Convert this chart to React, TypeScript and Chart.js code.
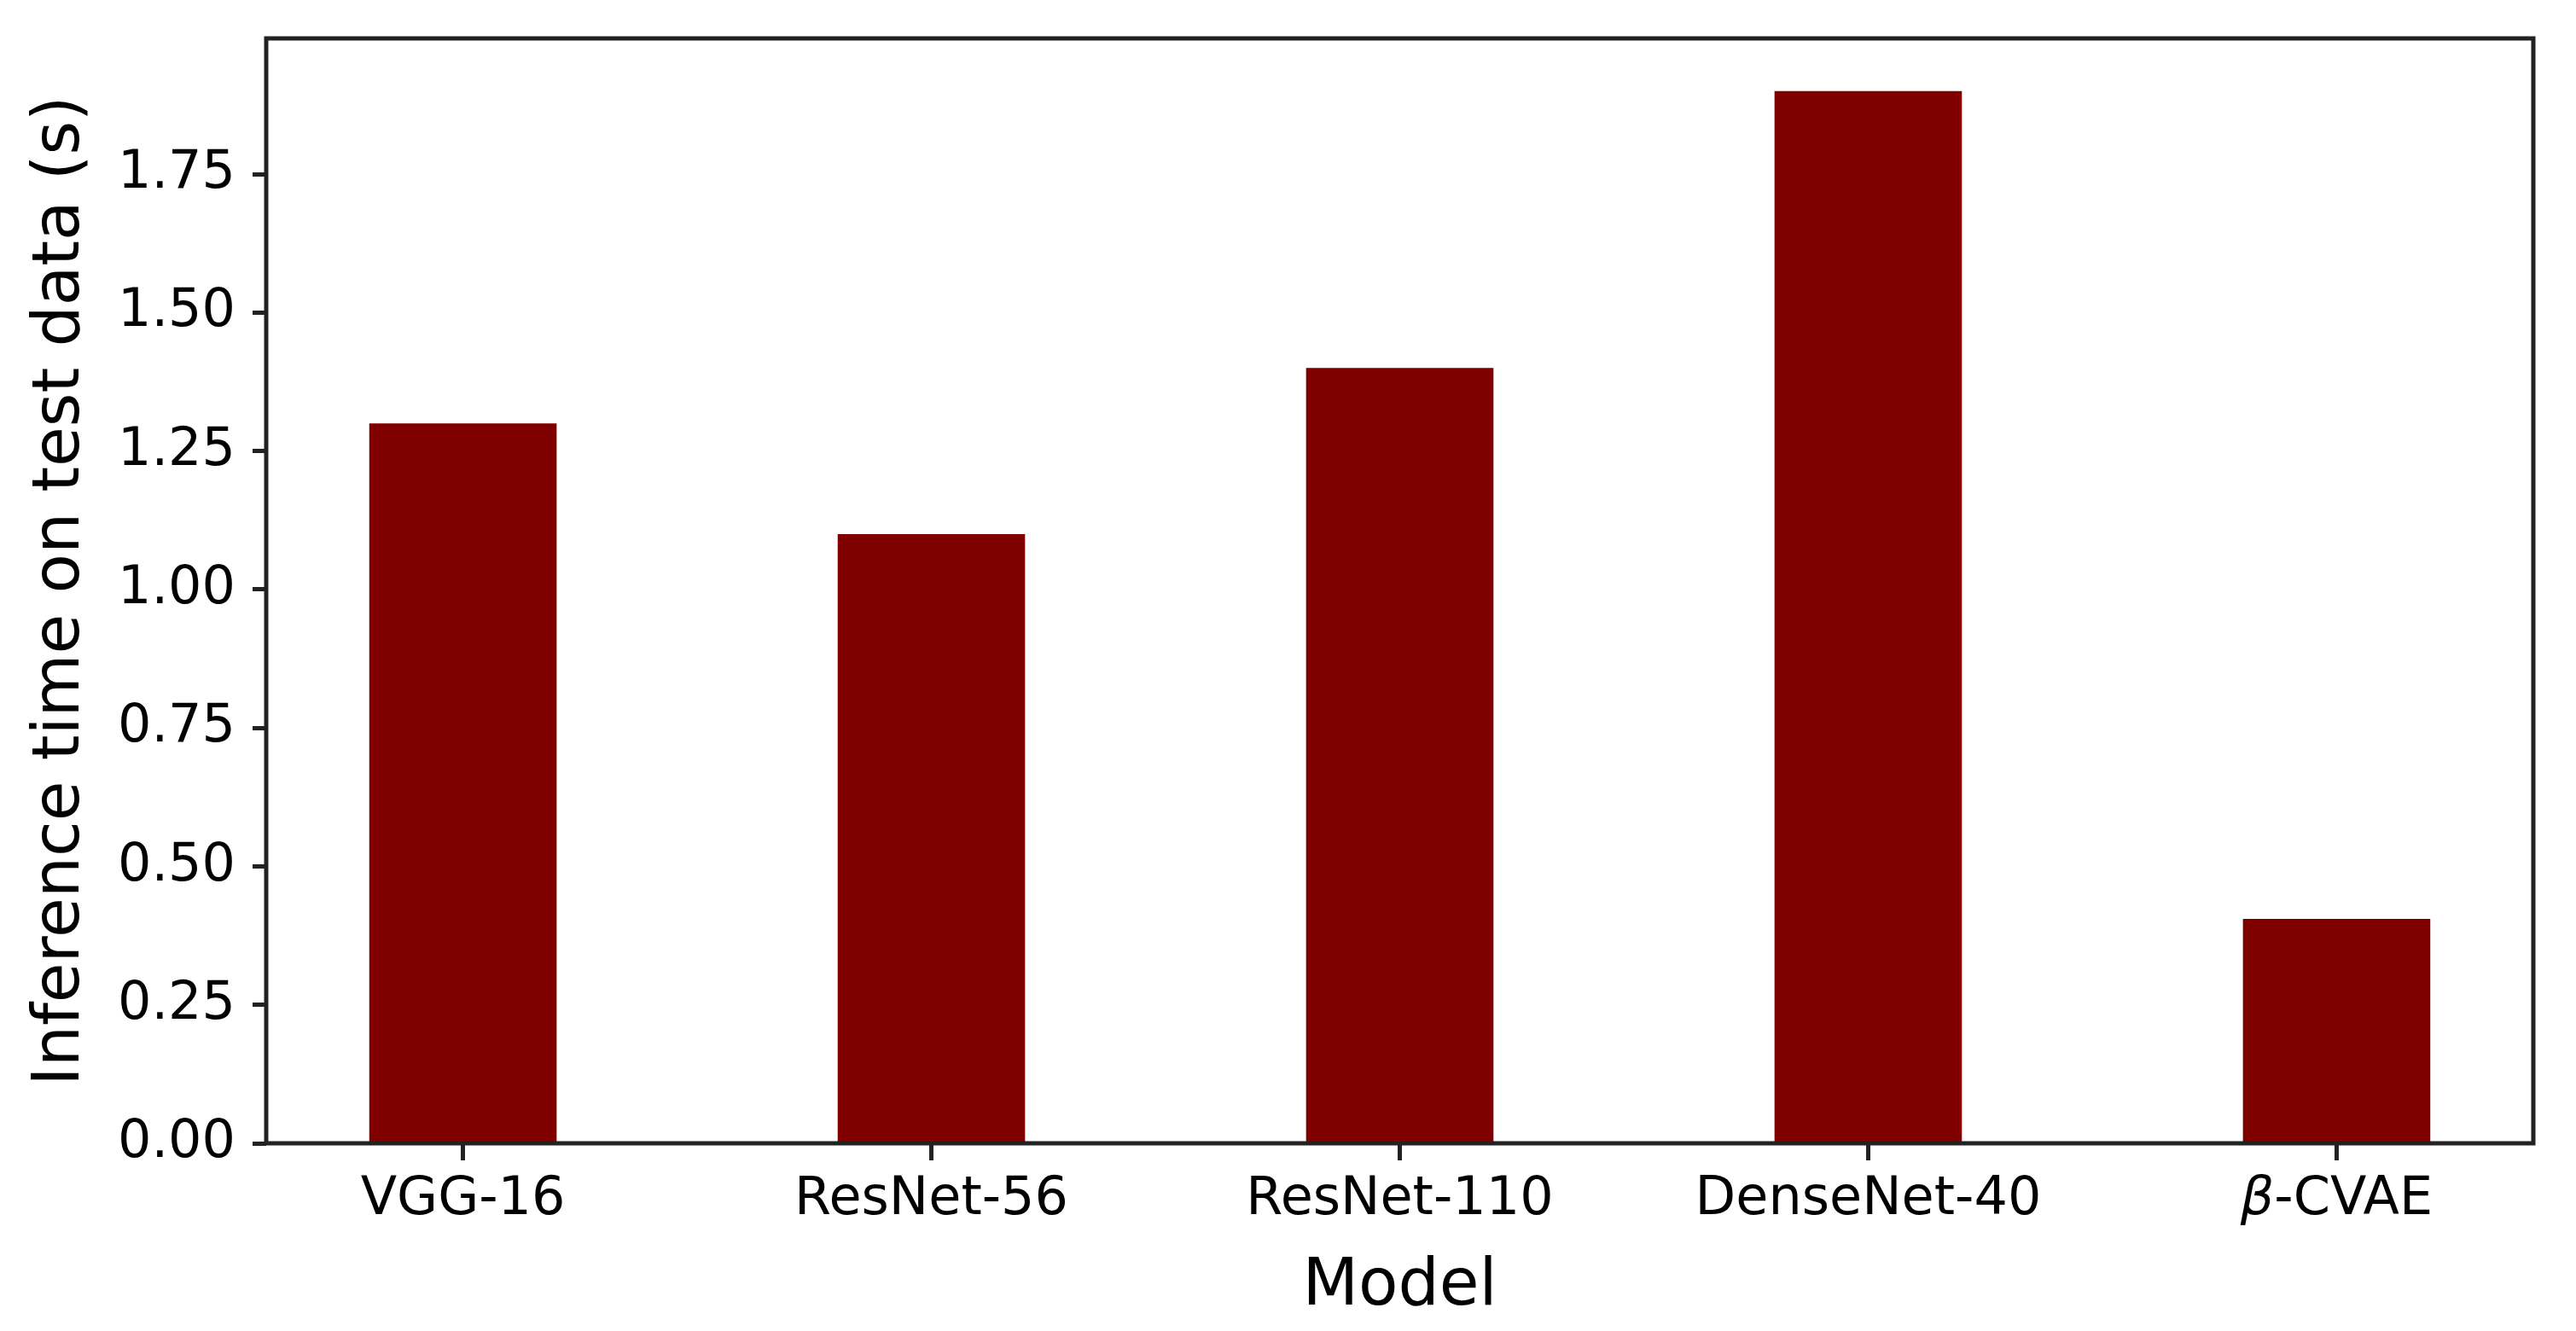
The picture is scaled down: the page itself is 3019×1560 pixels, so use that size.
import React, { useEffect, useRef } from "react";
import { Chart, registerables } from "chart.js";

Chart.register(...registerables);

const categories = ["VGG-16", "ResNet-56", "ResNet-110", "DenseNet-40", "β-CVAE"];
const inferenceTimes = [1.3, 1.1, 1.4, 1.9, 0.405];
const yTickValues = [0, 0.25, 0.5, 0.75, 1.0, 1.25, 1.5, 1.75];
const xLimits = [-0.42, 4.42];
const yLimits = [0, 1.995];

const AXIS = "#222222";
const BAR = "#800000";
const FONT = "'DejaVu Sans', sans-serif";

export default function App() {
  const ref = useRef<HTMLCanvasElement>(null);

  useEffect(() => {
    document.body.style.margin = "0";
    const canvas = ref.current!;
    const frame = {
      id: "frame",
      afterDatasetsDraw(chart: any) {
        const { ctx, chartArea: a } = chart;
        ctx.save();
        ctx.strokeStyle = AXIS;
        ctx.lineWidth = 5;
        ctx.strokeRect(a.left, a.top, a.right - a.left, a.bottom - a.top);
        ctx.restore();
      },
    };
    // x tick labels drawn as text so the leading β can be italic, like mathtext
    const xLabels = {
      id: "xLabels",
      afterDraw(chart: any) {
        const { ctx } = chart;
        const xs = chart.scales.x;
        const baseY = chart.chartArea.bottom + 83;
        ctx.save();
        ctx.fillStyle = "#000";
        ctx.textBaseline = "alphabetic";
        ctx.textAlign = "left";
        categories.forEach((label, i) => {
          const cx = xs.getPixelForValue(i);
          if (label.startsWith("β")) {
            const rest = label.slice(1);
            ctx.font = `italic 62px ${FONT}`;
            const wb = ctx.measureText("β").width;
            ctx.font = `62px ${FONT}`;
            const wr = ctx.measureText(rest).width;
            const x0 = cx - (wb + wr) / 2;
            ctx.font = `italic 62px ${FONT}`;
            ctx.fillText("β", x0, baseY);
            ctx.font = `62px ${FONT}`;
            ctx.fillText(rest, x0 + wb, baseY);
          } else {
            ctx.font = `62px ${FONT}`;
            const w = ctx.measureText(label).width;
            ctx.fillText(label, cx - w / 2, baseY);
          }
        });
        ctx.restore();
      },
    };
    const chart = new Chart(canvas, {
      type: "bar",
      data: {
        datasets: [
          {
            data: inferenceTimes.map((v, i) => ({ x: i, y: v })),
            backgroundColor: BAR,
            borderWidth: 0,
            barPercentage: 0.4,
            categoryPercentage: 1,
          },
        ],
      },
      options: {
        responsive: false,
        animation: false,
        devicePixelRatio: 1,
        layout: { padding: { top: 45, right: 50, left: 0, bottom: 0 } },
        plugins: { legend: { display: false }, tooltip: { enabled: false } },
        scales: {
          x: {
            type: "linear",
            offset: false,
            min: xLimits[0],
            max: xLimits[1],
            afterBuildTicks: (s: any) => {
              s.ticks = categories.map((_, i) => ({ value: i }));
            },
            afterFit: (s: any) => {
              s.height = 220;
              s.paddingLeft = 0;
              s.paddingRight = 0;
            },
            ticks: {
              display: false,
              autoSkip: false,
              maxRotation: 0,
            },
            grid: {
              display: true,
              offset: false,
              drawOnChartArea: false,
              drawTicks: true,
              tickLength: 20,
              tickWidth: 5,
              tickColor: AXIS,
            },
            border: { display: false },
            title: {
              display: true,
              text: "Model",
              color: "#000",
              font: { family: FONT, size: 76, lineHeight: 1.2 },
              padding: { top: 0, bottom: 5 },
            },
          },
          y: {
            type: "linear",
            min: yLimits[0],
            max: yLimits[1],
            afterBuildTicks: (s: any) => {
              s.ticks = yTickValues.map((v) => ({ value: v }));
            },
            afterFit: (s: any) => {
              s.width = 312;
              s.paddingTop = 0;
              s.paddingBottom = 0;
            },
            ticks: {
              color: "#000",
              font: { family: FONT, size: 62 },
              padding: 20,
              callback: (v: any) => Number(v).toFixed(2),
            },
            grid: {
              display: true,
              drawOnChartArea: false,
              drawTicks: true,
              tickLength: 16,
              tickWidth: 5,
              tickColor: AXIS,
            },
            border: { display: false },
            title: {
              display: true,
              text: "Inference time on test data (s)",
              color: "#000",
              font: { family: FONT, size: 76, lineHeight: 1.2 },
              padding: { top: 27, bottom: 0 },
            },
          },
        },
      },
      plugins: [frame, xLabels],
    } as any);
    return () => chart.destroy();
  }, []);

  return (
    <canvas
      ref={ref}
      width={3019}
      height={1560}
      style={{ display: "block", width: 3019, height: 1560 }}
    />
  );
}
